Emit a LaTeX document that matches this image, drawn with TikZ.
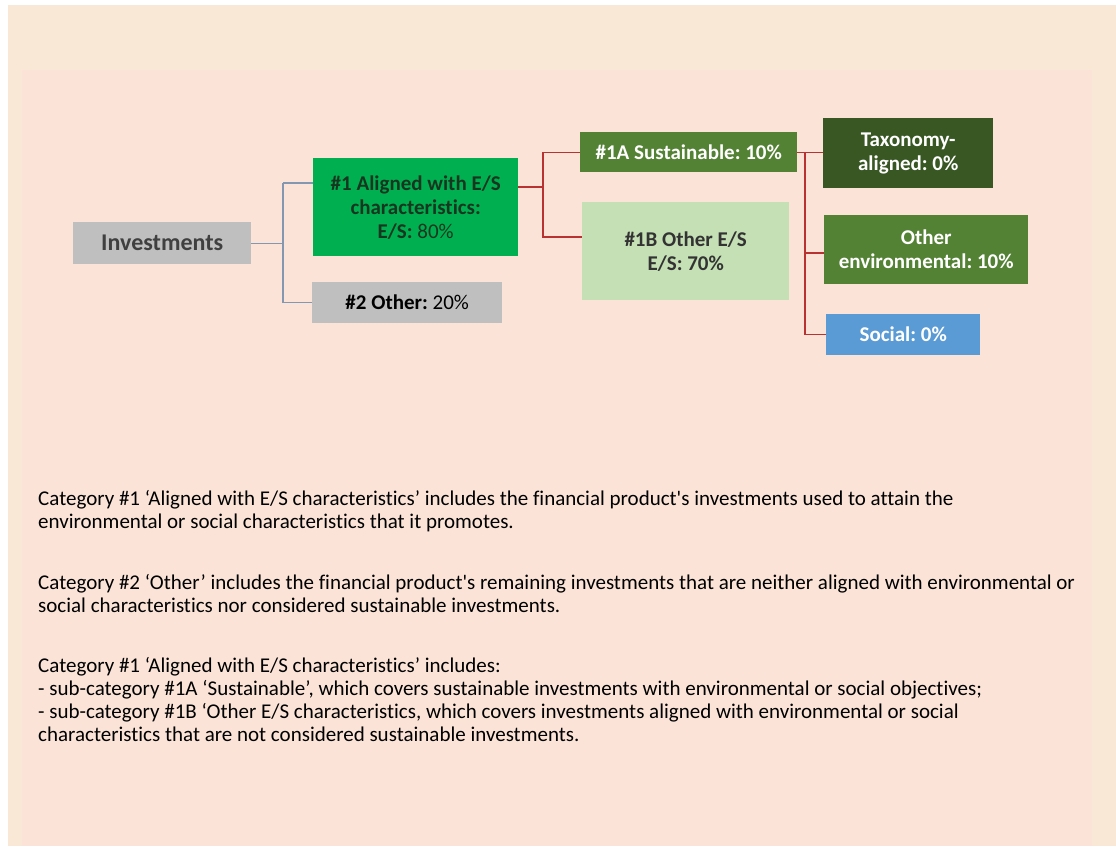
\documentclass[tikz,border=0pt]{standalone}
\usepackage{fontspec}
\setmainfont{Carlito}[Ligatures={TeX,NoCommon}]
\usetikzlibrary{positioning}

\definecolor{pageback}{HTML}{FAE8D6}
\definecolor{panelback}{HTML}{FBE4D7}
\definecolor{greybox}{HTML}{BFBFBF}
\definecolor{brightgreen}{HTML}{00B050}
\definecolor{midgreen}{HTML}{548235}
\definecolor{darkgreen}{HTML}{385723}
\definecolor{palegreen}{HTML}{C5E0B4}
\definecolor{socialblue}{HTML}{5B9BD5}
\definecolor{bluegrey}{HTML}{8497B0}
\definecolor{linkred}{HTML}{B83232}
\definecolor{inkgreen}{HTML}{17361F}

\tikzset{
  box/.style={anchor=north west, inner sep=2pt, align=center, font=\bfseries\fontsize{21}{24}\selectfont},
  blueline/.style={draw=bluegrey, line width=1.4pt},
  redline/.style={draw=linkred, line width=1.4pt},
  note/.style={anchor=north west, inner sep=0pt, align=left, font=\fontsize{21}{23}\selectfont}
}

\begin{document}
\frenchspacing
\begin{tikzpicture}[x=1pt,y=-1pt]
\useasboundingbox (0,0) rectangle (1116,846);
\fill[pageback] (8,5) rectangle (1116,846);
\fill[panelback] (22,70) rectangle (1092,846);

% boxes
\node[box, fill=greybox, text=black!75, minimum width=178pt, minimum height=42pt,
      font=\bfseries\fontsize{24}{26}\selectfont] (inv) at (73,222) {Investments};
\node[box, fill=brightgreen, text=inkgreen, minimum width=205pt, minimum height=98pt] (al) at (313,158)
  {\#1 Aligned with E/S\\characteristics:\\E/S: \mdseries 80\%};
\node[box, fill=greybox, text=black, minimum width=190pt, minimum height=41pt] (ot) at (312,282)
  {\#2 Other: \mdseries 20\%};
\node[box, fill=midgreen, text=white, minimum width=217pt, minimum height=40pt] (sus) at (580,132)
  {\#1A Sustainable: 10\%};
\node[box, fill=palegreen, text=black!80, minimum width=207pt, minimum height=98pt] (oes) at (582,202)
  {\#1B Other E/S\\E/S: 70\%};
\node[box, fill=darkgreen, text=white, minimum width=170pt, minimum height=70pt] (tax) at (823,118)
  {Taxonomy-\\aligned: 0\%};
\node[box, fill=midgreen, text=white, minimum width=204pt, minimum height=69pt] (env) at (824,215)
  {Other\\environmental: 10\%};
\node[box, fill=socialblue, text=white, minimum width=154pt, minimum height=41pt] (soc) at (826,314)
  {Social: 0\%};

% connectors
\coordinate (t1) at (283,183);
\draw[blueline] (inv.east) -- (inv.east -| t1) (t1) -- (al.west |- t1) (t1) |- (ot.west);

\coordinate (s2) at (543,187);
\coordinate (t2) at (543,237);
\draw[redline] (al.east |- s2) -- (s2) (s2 |- sus.west) -- (sus.west)
  (s2 |- sus.west) -- (t2) -- (oes.west |- t2);

\coordinate (s3) at (805,152);
\coordinate (t3) at (805,253);
\draw[redline] (sus.east) -- (tax.west |- sus.east) (s3) |- (soc.west) (t3) -- (env.west |- t3);

% explanatory text
\node[note] (n1) at (38,490) {Category \#1 ‘Aligned with E/S characteristics’ includes the financial product\textquotesingle s investments used to attain the\\
environmental or social characteristics that it promotes.};
\node[note] (n2) at (38,574) {Category \#2 ‘Other’ includes the financial product\textquotesingle s remaining investments that are neither aligned with environmental or\\
social characteristics nor considered sustainable investments.};
\node[note] (n3) at (38,657) {Category \#1 ‘Aligned with E/S characteristics’ includes:\\
- sub-category \#1A ‘Sustainable’, which covers sustainable investments with environmental or social objectives;\\
- sub-category \#1B ‘Other E/S characteristics, which covers investments aligned with environmental or social\\
characteristics that are not considered sustainable investments.};
\end{tikzpicture}
\end{document}
